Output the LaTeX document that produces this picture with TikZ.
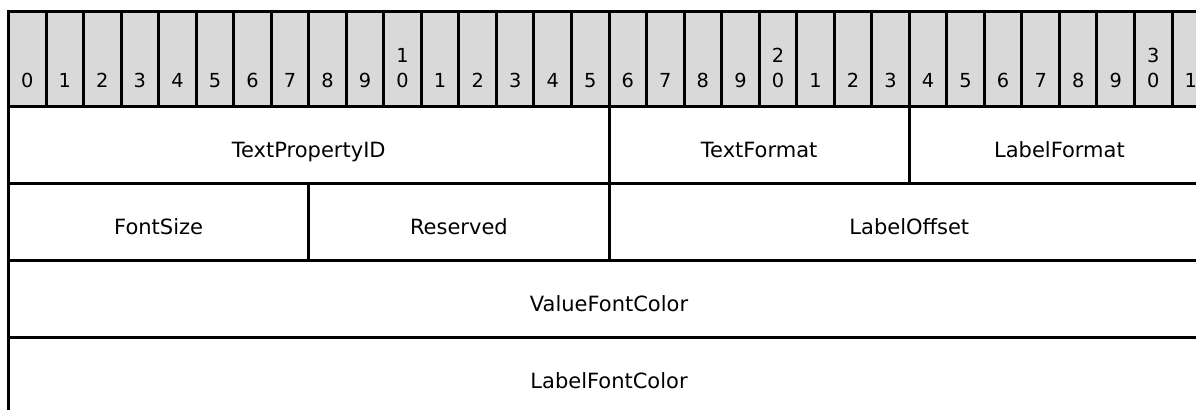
\documentclass[tikz,border=0pt]{standalone}
\usepackage{fontspec}
\setmainfont{DejaVu Sans}
\usetikzlibrary{positioning}
\definecolor{header}{RGB}{217,217,217}
\newcommand{\bitw}{28.15pt}

\begin{document}
\begin{tikzpicture}
    [
        x=0.75pt, y=-0.75pt,
        bitbox/.style={draw, fill=header, line width=2.25pt, inner sep=0pt, outer sep=0pt,
            minimum width=\bitw, minimum height=71.6pt, text height=42.7pt, text depth=0pt,
            font=\fontsize{14.5pt}{18.75pt}\selectfont},
        field/.style={draw, line width=2.25pt, inner sep=0pt, outer sep=0pt,
            minimum height=57.75pt, text height=18.75pt, text depth=0pt,
            font=\fontsize{15.75pt}{19pt}\selectfont},
        bits/.style={minimum width=#1*\bitw}
    ]
    \useasboundingbox (0,0) rectangle (1196,410);
    \clip (0,0) rectangle (1196,410);

    % bit numbers
    \node[bitbox, anchor=north west] (b0) at (8.5,11.5) {0};
    \foreach \i [remember=\i as \j (initially 0)] in {1,...,31} {
        \pgfmathtruncatemacro{\d}{mod(\i,10)}
        \pgfmathtruncatemacro{\t}{\i/10}
        \ifnum\d=0
            \node[bitbox, right=0pt of b\j] (b\i) {\begin{tabular}[b]{@{}c@{}}\t\\0\end{tabular}};
        \else
            \node[bitbox, right=0pt of b\j] (b\i) {\d};
        \fi
    }

    % fields
    \node[field, bits=16, anchor=north west] (textpropid) at (b0.south west) {TextPropertyID};
    \node[field, bits=8, anchor=north west] (textformat) at (b16.south west) {TextFormat};
    \node[field, bits=8, anchor=north west] (labelformat) at (b24.south west) {LabelFormat};

    \node[field, bits=8, anchor=north west] (fontsize) at (textpropid.south west) {FontSize};
    \node[field, bits=8, right=0pt of fontsize] (reserved) {Reserved};
    \node[field, bits=16, right=0pt of reserved] (labeloffset) {LabelOffset};

    \node[field, bits=32, anchor=north west] (valuefontcolor) at (fontsize.south west) {ValueFontColor};
    \node[field, bits=32, anchor=north west] (labelfontcolor) at (valuefontcolor.south west) {LabelFontColor};
\end{tikzpicture}
\end{document}
